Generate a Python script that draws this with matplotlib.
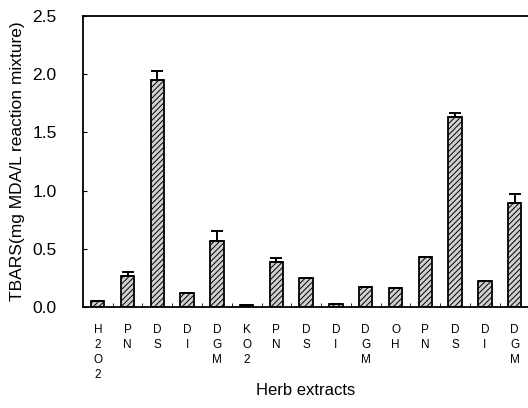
import matplotlib
matplotlib.use("Agg")
import matplotlib.pyplot as plt
import numpy as np

plt.rcParams['font.family'] = ['Liberation Sans', 'DejaVu Sans']
plt.rcParams['hatch.linewidth'] = 0.7
plt.rcParams['hatch.color'] = '#222222'

categories = ["H2O2", "PN", "DS", "DI", "DGM", "KO2", "PN", "DS", "DI", "DGM",
              "OH", "PN", "DS", "DI", "DGM"]
values = [0.05, 0.27, 1.95, 0.12, 0.57, 0.02, 0.39, 0.25, 0.03, 0.17,
          0.16, 0.43, 1.63, 0.22, 0.89]
errors = [0.00, 0.03, 0.08, 0.00, 0.08, 0.00, 0.03, 0.00, 0.00, 0.00,
          0.00, 0.00, 0.04, 0.00, 0.08]
yticks = [0.0, 0.5, 1.0, 1.5, 2.0, 2.5]

fig = plt.figure(figsize=(5.28, 4.08), dpi=100)
ax = fig.add_axes([0.157, 0.2475, 0.843, 0.7135])

x = np.arange(len(categories))
ax.bar(x, values, width=0.45, color='#d0d0d0', edgecolor='black',
       linewidth=1.3, hatch='//////', zorder=2)
ax.errorbar(x, values, yerr=[np.zeros(len(errors)), errors], fmt='none',
            ecolor='black', elinewidth=1.4, capsize=4, capthick=1.4, zorder=3)

ax.set_xlim(-0.5, 14.45)
ax.set_ylim(0, 2.5)
ax.set_yticks(yticks)
ax.set_yticklabels([f"{v:.1f}" for v in yticks], fontsize=12.5)
ax.set_xticks(x)
ax.set_xticklabels(["\n".join(c) for c in categories], fontsize=8.5,
                   linespacing=1.35)
ax.set_xticks(x[:-1] + 0.5, minor=True)
ax.tick_params(axis='x', which='major', length=0, pad=12)
ax.tick_params(axis='x', which='minor', length=3, direction='in')
ax.tick_params(axis='y', direction='in', length=3, pad=19)

ax.spines['right'].set_visible(False)
for s in ['left', 'bottom', 'top']:
    ax.spines[s].set_linewidth(1.3)

ax.set_ylabel("TBARS(mg MDA/L reaction mixture)", fontsize=12.5, labelpad=5)
ax.set_xlabel("Herb extracts", fontsize=12)
ax.xaxis.set_label_coords(0.5, -0.262)

fig.savefig("out.png", dpi=100)
